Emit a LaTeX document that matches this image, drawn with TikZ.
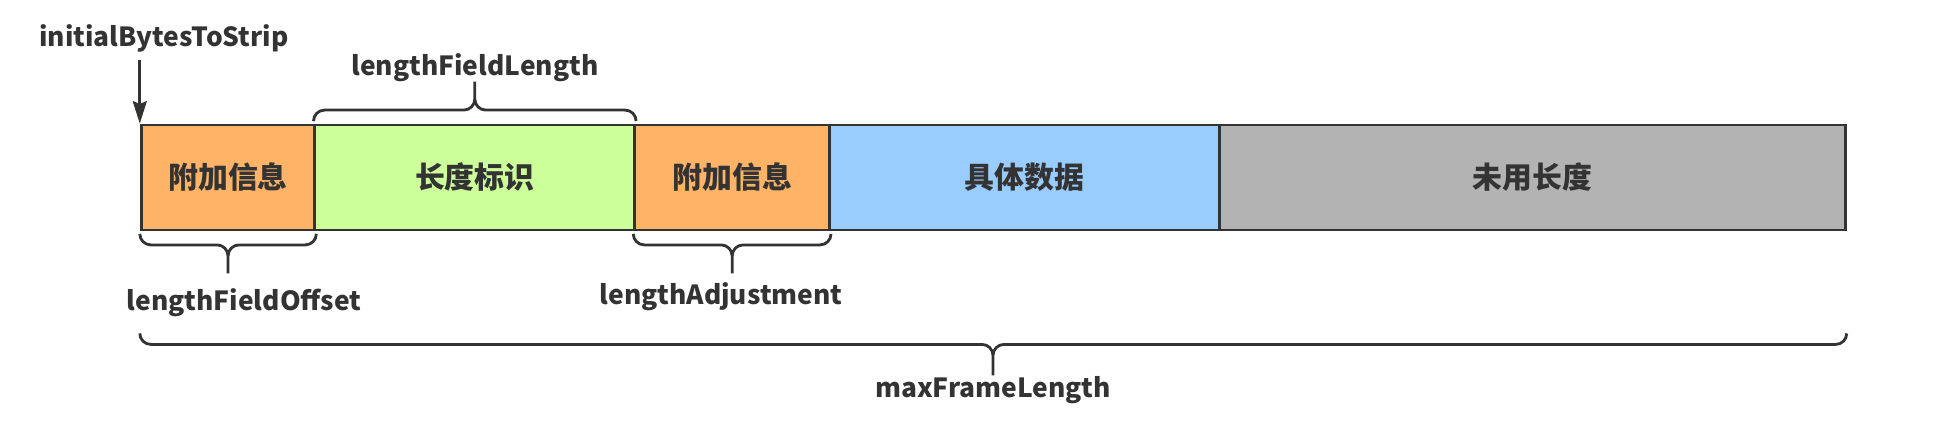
\documentclass[tikz,border=0pt]{standalone}
\usepackage{fontspec}
\setmainfont{Noto Sans CJK SC}
\usetikzlibrary{arrows.meta}

\definecolor{linecol}{HTML}{333333}
\definecolor{addcol}{HTML}{FFB366}
\definecolor{lencol}{HTML}{CCFF99}
\definecolor{datacol}{HTML}{99CCFF}
\definecolor{unusedcol}{HTML}{B3B3B3}

\tikzset{
  bracebar/.style={draw=linecol,line width=1.6pt,rounded corners=0.22cm}
}

\begin{document}
\begin{tikzpicture}

      \useasboundingbox (0,0) rectangle (39.18,-8.46);

      \begin{scope}[every node/.style={draw=linecol,line width=1.6pt,inner sep=0pt,minimum height=2.1cm,text=linecol,font=\fontsize{17}{20}\selectfont\bfseries}]
        \node[fill=addcol,minimum width=3.474cm] (add1) at (4.561,-3.55) {附加信息};
        \node[fill=lencol,minimum width=6.396cm] (len) at (9.496,-3.55) {长度标识};
        \node[fill=addcol,minimum width=3.898cm] (add2) at (14.643,-3.55) {附加信息};
        \node[fill=datacol,minimum width=7.796cm] (data) at (20.49,-3.55) {具体数据};
        \node[fill=unusedcol,minimum width=12.518cm] (unused) at (30.647,-3.55) {未用长度};
      \end{scope}

      \begin{scope}[every node/.style={text=linecol,font=\fontsize{15}{18}\selectfont\bfseries}]
        \node (strip) at (3.28,-0.76) {initialBytesToStrip};
        \node (fieldlen) at (9.5,-1.36) {lengthFieldLength};
        \node (fieldoff) at (4.88,-6.05) {lengthFieldOffset};
        \node (adjust) at (14.42,-5.93) {lengthAdjustment};
        \node (maxlen) at (19.86,-7.81) {maxFrameLength};
      \end{scope}

      \draw[draw=linecol,line width=1.6pt,-{Stealth[length=0.45cm,width=0.28cm,inset=0.06cm]}] ([yshift=1.28cm]add1.north west) -- (add1.north west);

      \draw[bracebar] ([yshift=0.05cm]len.north west) -- ++(0,0.22) -| ([yshift=0.84cm]len.north)
                      ([yshift=0.05cm]len.north east) -- ++(0,0.22) -| ([yshift=0.84cm]len.north);
      \draw[bracebar] ([yshift=-0.05cm]add1.south west) -- ++(0,-0.22) -| ([yshift=-0.84cm]add1.south)
                      ([yshift=-0.05cm]add1.south east) -- ++(0,-0.22) -| ([yshift=-0.84cm]add1.south);
      \draw[bracebar] ([yshift=-0.05cm]add2.south west) -- ++(0,-0.22) -| ([yshift=-0.84cm]add2.south)
                      ([yshift=-0.05cm]add2.south east) -- ++(0,-0.22) -| ([yshift=-0.84cm]add2.south);
      \draw[bracebar] ([yshift=-2.04cm]add1.south west) -- ++(0,-0.22) -| ([yshift=-2.88cm]add1.south west -| maxlen)
                      ([yshift=-2.04cm]unused.south east) -- ++(0,-0.22) -| ([yshift=-2.88cm]add1.south west -| maxlen);

    \end{tikzpicture}
\end{document}
